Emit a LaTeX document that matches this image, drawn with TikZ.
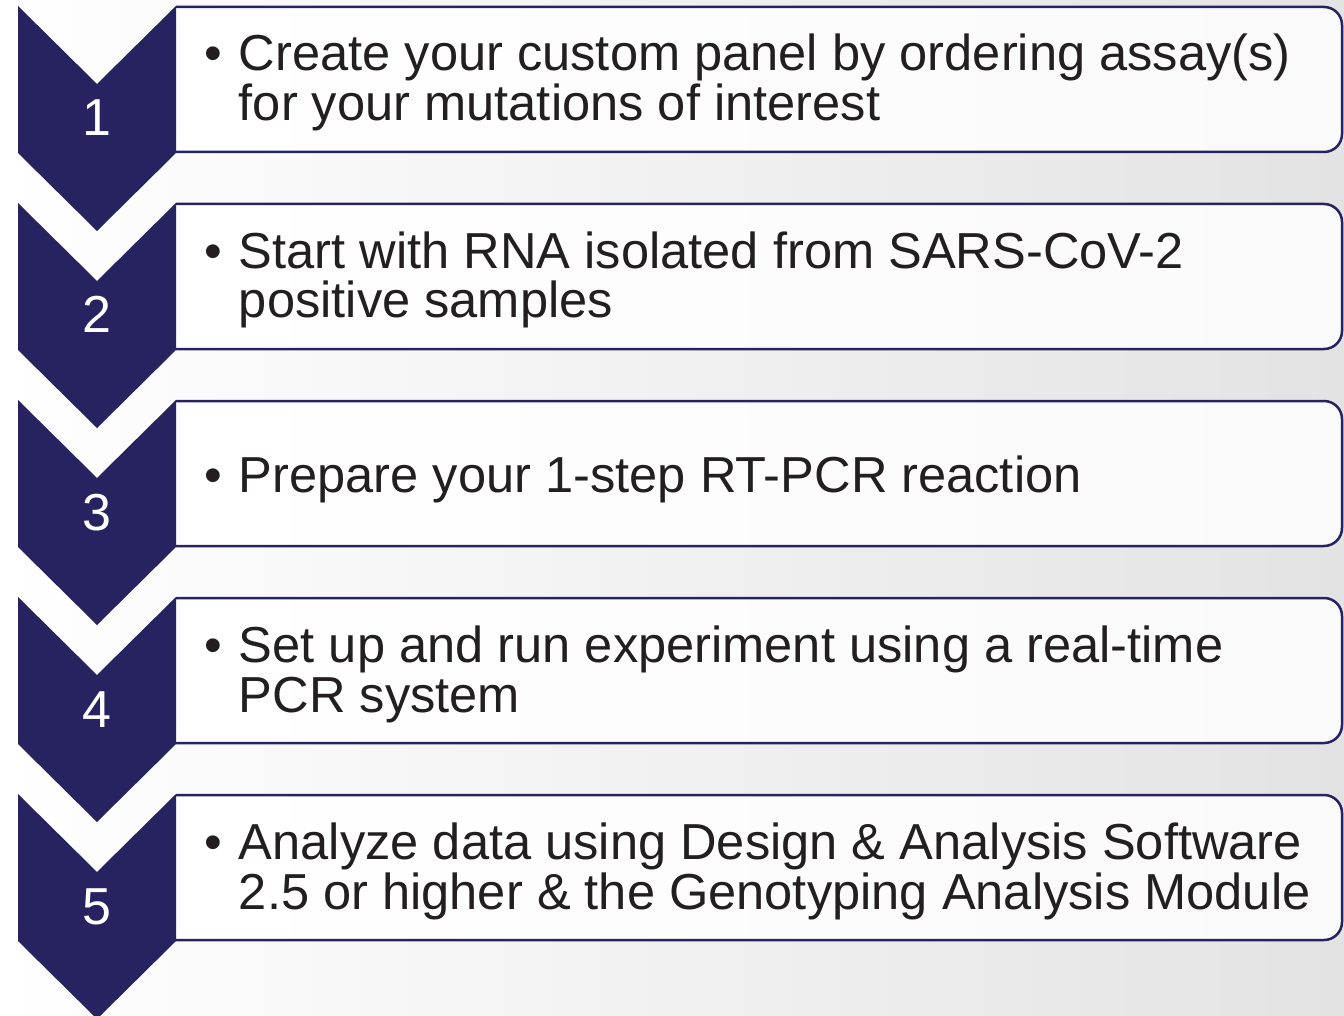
\documentclass[tikz,border=0pt]{standalone}
\usepackage{fontspec}
\setmainfont{Liberation Sans}
\definecolor{navy}{RGB}{39,35,96}
\definecolor{ink}{RGB}{35,31,32}
\newcommand{\bulletgap}{\phantom{\textbullet}\hspace{17pt}}
\tikzset{
  stepnum/.style={anchor=base, text=white, inner sep=0pt, font=\fontsize{52}{56}\selectfont},
  steptext/.style={anchor=base west, align=left, text=ink, inner sep=0pt, font=\fontsize{50.6}{50}\selectfont},
  stepbox/.style={draw=navy, line width=2.5pt, rounded corners=18pt, left color=white, right color=black!2},
}

\begin{document}
\begin{tikzpicture}[x=1pt,y=-1pt]
  %tikz  workflow, five steps
  \useasboundingbox (0,0) rectangle (1344,1016);
  \clip (0,0) rectangle (1344,1016);
  \shade[left color=white, right color=black!11] (0,0) rectangle (1344,1016);
  % \off = baseline of the last line, from the top of the step
  \foreach \n/\t/\off/\txt in {
      1/6/115/{Create your custom panel by ordering assay(s)\\\bulletgap for your mutations of interest},
      2/203/115/{Start with RNA isolated from SARS-CoV-2\\\bulletgap positive samples},
      3/400/92/{Prepare your 1-step RT-PCR reaction},
      4/597/115/{Set up and run experiment using a real-time\\\bulletgap PCR system},
      5/794/115/{Analyze data using Design \& Analysis Software\\\bulletgap 2.5 or higher \& the Genotyping Analysis Module}}{
    \draw[stepbox] (176,\t+1) -| (1342,\t+146) -- (176,\t+146);
    \fill[navy] (18,\t) -- (97,\t+78) -- (176,\t) -- (176,\t+147) -- (97,\t+225) -- (18,\t+147) -- cycle;
    \node[stepnum] (num\n) at (97,\t+130) {\n};
    \node[steptext] (txt\n) at (204,\t+\off) {\textbullet\hspace{17pt}\txt};
  }
\end{tikzpicture}
\end{document}
